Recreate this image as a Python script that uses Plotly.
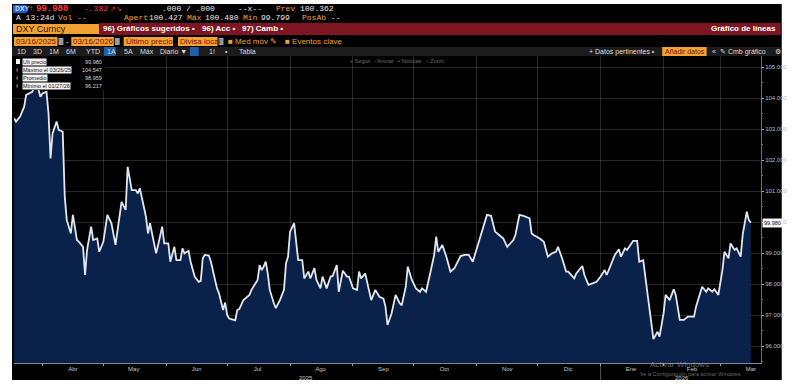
import plotly.graph_objects as go

# ---------------- data ----------------
dates = [
    "2025-03-18", "2025-03-19", "2025-03-21", "2025-03-23", "2025-03-24", "2025-03-27", "2025-03-29", "2025-03-31",
    "2025-04-01", "2025-04-03", "2025-04-04", "2025-04-05", "2025-04-06", "2025-04-08", "2025-04-09", "2025-04-11",
    "2025-04-12", "2025-04-13", "2025-04-15", "2025-04-16", "2025-04-18", "2025-04-19", "2025-04-21", "2025-04-22",
    "2025-04-23", "2025-04-25", "2025-04-26", "2025-04-28", "2025-04-29", "2025-05-01", "2025-05-03", "2025-05-05",
    "2025-05-07", "2025-05-10", "2025-05-12", "2025-05-13", "2025-05-15", "2025-05-17", "2025-05-18", "2025-05-19",
    "2025-05-22", "2025-05-23", "2025-05-24", "2025-05-27", "2025-05-28", "2025-05-30", "2025-05-31", "2025-06-02",
    "2025-06-03", "2025-06-05", "2025-06-06", "2025-06-08", "2025-06-09", "2025-06-10", "2025-06-12", "2025-06-13",
    "2025-06-15", "2025-06-17", "2025-06-18", "2025-06-19", "2025-06-20", "2025-06-22", "2025-06-23", "2025-06-24",
    "2025-06-26", "2025-06-27", "2025-06-28", "2025-06-29", "2025-06-30", "2025-07-01", "2025-07-02", "2025-07-04",
    "2025-07-05", "2025-07-06", "2025-07-07", "2025-07-09", "2025-07-10", "2025-07-12", "2025-07-13", "2025-07-16",
    "2025-07-17", "2025-07-18", "2025-07-19", "2025-07-20", "2025-07-21", "2025-07-22", "2025-07-24", "2025-07-25",
    "2025-07-27", "2025-07-29", "2025-07-30", "2025-07-31", "2025-08-01", "2025-08-03", "2025-08-04", "2025-08-05",
    "2025-08-07", "2025-08-08", "2025-08-10", "2025-08-11", "2025-08-13", "2025-08-14", "2025-08-16", "2025-08-17",
    "2025-08-19", "2025-08-21", "2025-08-22", "2025-08-24", "2025-08-25", "2025-08-27", "2025-08-29", "2025-08-30",
    "2025-09-01", "2025-09-03", "2025-09-04", "2025-09-05", "2025-09-07", "2025-09-09", "2025-09-10", "2025-09-12",
    "2025-09-14", "2025-09-16", "2025-09-17", "2025-09-18", "2025-09-20", "2025-09-22", "2025-09-24", "2025-09-25",
    "2025-09-27", "2025-09-28", "2025-09-30", "2025-10-02", "2025-10-04", "2025-10-05", "2025-10-07", "2025-10-09",
    "2025-10-11", "2025-10-12", "2025-10-13", "2025-10-15", "2025-10-17", "2025-10-19", "2025-10-21", "2025-10-24",
    "2025-10-26", "2025-10-28", "2025-10-30", "2025-11-02", "2025-11-04", "2025-11-06", "2025-11-08", "2025-11-10",
    "2025-11-12", "2025-11-14", "2025-11-16", "2025-11-19", "2025-11-20", "2025-11-22", "2025-11-24", "2025-11-27",
    "2025-11-28", "2025-11-29", "2025-12-02", "2025-12-04", "2025-12-06", "2025-12-08", "2025-12-10", "2025-12-11",
    "2025-12-13", "2025-12-15", "2025-12-16", "2025-12-19", "2025-12-20", "2025-12-23", "2025-12-24", "2025-12-26",
    "2025-12-28", "2025-12-30", "2026-01-01", "2026-01-03", "2026-01-04", "2026-01-06", "2026-01-08", "2026-01-10",
    "2026-01-11", "2026-01-13", "2026-01-14", "2026-01-17", "2026-01-19", "2026-01-20", "2026-01-22", "2026-01-23",
    "2026-01-25", "2026-01-27", "2026-01-29", "2026-01-30", "2026-02-01", "2026-02-02", "2026-02-04", "2026-02-06",
    "2026-02-07", "2026-02-09", "2026-02-11", "2026-02-13", "2026-02-16", "2026-02-17", "2026-02-20", "2026-02-22",
    "2026-02-23", "2026-02-25", "2026-02-26", "2026-02-28", "2026-03-02", "2026-03-03", "2026-03-05", "2026-03-06",
    "2026-03-08", "2026-03-09", "2026-03-11", "2026-03-12", "2026-03-14", "2026-03-15", "2026-03-16",
]
prices = [
    103.35, 103.24, 103.40, 103.72, 104.10, 104.20, 104.55, 104.04,
    104.15, 104.20, 103.50, 102.05, 102.86, 103.24, 102.97, 102.91,
    100.82, 100.06, 99.63, 100.23, 99.42, 99.36, 99.20, 98.29,
    99.10, 99.85, 99.42, 99.47, 99.04, 99.36, 100.23, 99.96,
    99.26, 100.65, 100.39, 101.78, 101.03, 101.03, 100.92, 101.09,
    100.17, 99.63, 99.96, 98.99, 99.26, 99.85, 99.31, 99.31,
    98.72, 99.20, 98.77, 98.77, 99.15, 98.99, 99.07, 98.72,
    98.24, 98.07, 98.10, 98.83, 98.94, 98.92, 98.72, 98.40,
    97.86, 97.70, 97.43, 97.16, 97.40, 97.00, 96.89, 96.84,
    96.83, 97.16, 97.19, 97.48, 97.54, 97.65, 97.81, 98.13,
    98.61, 98.45, 98.56, 98.72, 98.34, 97.81, 97.38, 97.22,
    97.48, 97.81, 98.67, 98.88, 99.69, 99.96, 99.36, 98.77,
    98.77, 98.18, 98.40, 98.18, 98.51, 98.13, 97.86, 98.24,
    97.86, 98.24, 98.26, 98.61, 97.75, 98.43, 98.24, 98.24,
    97.86, 97.81, 98.40, 98.18, 98.34, 97.81, 97.48, 97.81,
    97.59, 97.53, 97.27, 96.68, 97.05, 97.65, 97.38, 97.31,
    97.91, 98.56, 98.13, 97.86, 97.75, 97.86, 97.75, 98.34,
    98.94, 99.53, 99.04, 99.26, 98.88, 98.40, 98.51, 98.90,
    98.94, 98.94, 98.72, 99.36, 99.80, 100.23, 100.20, 99.69,
    99.58, 99.47, 99.20, 99.42, 99.58, 100.23, 100.20, 100.12,
    99.63, 99.58, 99.47, 99.36, 98.88, 98.99, 99.04, 99.20,
    98.83, 98.40, 98.40, 98.18, 98.34, 98.58, 98.29, 97.97,
    98.02, 98.07, 98.24, 98.45, 98.29, 98.61, 98.94, 99.12,
    98.88, 99.15, 99.10, 99.39, 99.39, 98.72, 98.77, 98.24,
    97.21, 96.22, 96.46, 96.30, 97.05, 97.65, 97.48, 97.83,
    97.65, 96.84, 96.84, 96.95, 96.95, 97.27, 97.91, 97.75,
    97.86, 97.75, 97.83, 97.65, 98.45, 99.04, 98.83, 99.31,
    99.10, 99.15, 98.88, 99.60, 100.33, 100.06, 99.98,
]

month_labels = ["Abr", "May", "Jun", "Jul", "Ago", "Sep", "Oct", "Nov", "Dic", "Ene", "Feb", "Mar"]
month_mids = ["2025-04-16", "2025-05-16", "2025-06-16", "2025-07-16", "2025-08-16", "2025-09-16",
              "2025-10-16", "2025-11-16", "2025-12-16", "2026-01-16", "2026-02-15", "2026-03-16"]
year_labels = ["2025", "2026"]
year_positions = ["2025-08-09", "2026-02-10"]

last_price = 99.980
legend_rows = [("Ult precio", "99.980"), ("Máximo el 03/26/25", "104.547"),
               ("Promedio", "98.959"), ("Mínimo el 01/27/26", "96.217")]

# ---------------- layout helpers (pixel -> paper) ----------------
W, H = 800, 384
L, R, T, B = 14, 30, 56, 21
PW, PH = W - L - R, H - T - B


def px(x):
    return (x - L) / PW


def py(y):
    return (H - B - y) / PH


shapes = []
annotations = []

ORANGE = "#f2a233"
WHITE = "#e8e8e8"
RED = "#ff3b3b"
MONO = "Liberation Mono"
SANS = "Liberation Sans"


def rect(x0, y0, x1, y1, color, layer="below"):
    shapes.append(dict(type="rect", xref="paper", yref="paper", x0=px(x0), x1=px(x1),
                       y0=py(y1), y1=py(y0), fillcolor=color, line=dict(width=0), layer=layer))


def text(x, y, s, color=WHITE, size=8, family=SANS, anchor="left", bg=None, bold=False, pad=0):
    if bold:
        s = "<b>" + s + "</b>"
    a = dict(xref="paper", yref="paper", x=px(x), y=py(y), text=s, showarrow=False,
             xanchor=anchor, yanchor="middle", font=dict(color=color, size=size, family=family),
             borderpad=pad)
    if bg:
        a["bgcolor"] = bg
    annotations.append(a)


# frame
rect(12, 4, 791, 380, "#000000")

# row 1
rect(13, 5, 27, 13, "#1d5bd6")
text(14, 9, "DXY", "#ffffff", 8, MONO)
text(28, 9, "↑", "#35c24a", 8, MONO)
text(35, 9, "99.980", RED, 9, MONO, bold=True)
text(84, 9, "-.382", RED, 8, MONO)
text(110, 9, "↗↘", RED, 7, SANS)
text(163, 9, ".000 / .000", WHITE, 8, MONO)
text(240, 9, "--x--", WHITE, 8, MONO)
text(278, 9, "Prev", ORANGE, 8, MONO)
text(302, 9, "100.362", WHITE, 8, MONO)

# row 2
text(15, 18, "A 13:24d", WHITE, 8, MONO)
text(58, 18, "Vol --", ORANGE, 8, MONO)
text(124, 18, "Apert", ORANGE, 8, MONO)
text(150, 18, "100.427", WHITE, 8, MONO)
text(188, 18, "Máx", ORANGE, 8, MONO)
text(206, 18, "100.480", WHITE, 8, MONO)
text(245, 18, "Mín", ORANGE, 8, MONO)
text(263, 18, "99.799", WHITE, 8, MONO)
text(304, 18, "PosAb", ORANGE, 8, MONO)
text(334, 18, "--", WHITE, 8, MONO)

# row 3
rect(100, 23, 790, 35, "#7e1621")
rect(13, 24, 100, 34, ORANGE)
text(15, 29, "DXY Curncy", "#2a1200", 9, SANS)
text(103, 29, "96) Gráficos sugeridos •", "#ffffff", 8, SANS, bold=True)
text(203, 29, "96) Acc •", "#ffffff", 8, SANS, bold=True)
text(244, 29, "97) Camb •", "#ffffff", 8, SANS, bold=True)
text(786, 29, "Gráfico de líneas", "#ffffff", 8, SANS, anchor="right", bold=True)

# row 4
rect(14, 37, 58, 46, ORANGE)
rect(59, 38, 64, 45, "#9a9a9a")
rect(72, 37, 115, 46, ORANGE)
rect(116, 38, 121, 45, "#9a9a9a")
rect(125, 37, 175, 46, ORANGE)
rect(180, 37, 220, 46, ORANGE)
rect(221, 38, 226, 45, "#9a9a9a")
text(15, 41.5, "03/16/2025", "#7a1010", 8, SANS)
text(66, 41.5, "-", WHITE, 8, SANS)
text(73, 41.5, "03/16/2026", "#7a1010", 8, SANS)
text(126, 41.5, "Último precio", "#7a1010", 8, SANS)
text(181, 41.5, "Divisa local", "#7a1010", 8, SANS)
text(230, 41.5, "■ Med móv ✎", ORANGE, 8, SANS)
text(287, 41.5, "■ Eventos clave", ORANGE, 8, SANS)

# row 5
rect(12, 47, 790, 56, "#1c1c1c")
rect(105, 47, 117, 56, "#1f5ea8")
rect(192, 47, 201, 56, "#1f5ea8")
row5 = [(16, "1D"), (32, "3D"), (48, "1M"), (66, "6M"), (86, "YTD"), (107, "1A"), (124, "5A"),
        (141, "Máx"), (161, "Diario ▼"), (210, "1!"), (227, "•"), (241, "Tabla")]
for x, s in row5:
    text(x, 51.5, s, "#dcdcdc", 7, SANS)
rect(670, 47, 715, 56, ORANGE)
text(595, 51.5, "+ Datos pertinentes •", "#dcdcdc", 7, SANS)
text(672, 51.5, "Añadir datos", "#7a1010", 7, SANS)
text(719, 51.5, "«", "#dcdcdc", 7, SANS)
text(727, 51.5, "✎ Cmb gráfico", "#dcdcdc", 7, SANS)
text(783, 51.5, "⚙", "#dcdcdc", 7, SANS)

# chart toolbar
text(402, 60.5, "+ Seguir   ⁄ Anotar   ▪ Noticias   ⌕ Zoom", "#6a6a6a", 5.5, SANS, anchor="center")

# legend box
rect(14, 57, 106, 90, "#000000", layer="above")
rect(16, 59, 20, 64, "#ffffff", layer="above")
ys = [62, 70, 78, 86]
for (lab, val), y in zip(legend_rows, ys):
    text(22, y, lab, "#111111", 5.5, SANS, bg="#f2f2f2", pad=0)
    text(104, y, val, "#d8d8d8", 5.5, SANS, anchor="right")
for y in ys[1:]:
    rect(16.5, y - 1.5, 18, y + 1.5, "#777777", layer="above")

# watermark
text(657, 364.5, "Activar Windows", "rgba(190,190,190,0.55)", 8, SANS)
text(647, 374, "Ve a Configuración para activar Windows.", "rgba(190,190,190,0.55)", 5.5, SANS)

# year labels
for yl, yp in zip(year_labels, year_positions):
    annotations.append(dict(xref="x", yref="paper", x=yp, y=py(377.5), text=yl, showarrow=False,
                            xanchor="center", yanchor="middle",
                            font=dict(color="#c8c8c8", size=6, family=SANS)))
shapes.append(dict(type="line", xref="x", yref="paper", x0="2026-01-01", x1="2026-01-01",
                   y0=py(380), y1=py(366), line=dict(color="#555555", width=1)))

# last price tag
annotations.append(dict(xref="paper", yref="y", x=1.002, y=last_price, text="99.980", showarrow=False,
                        xanchor="left", yanchor="middle", bgcolor="#f4f4f4", borderpad=1,
                        font=dict(color="#111111", size=5.5, family=SANS)))

# ---------------- figure ----------------
fig = go.Figure()
fig.add_trace(go.Scatter(
    x=dates, y=prices, mode="lines", fill="tozeroy",
    fillcolor="#0a2149", line=dict(color="#e2e7ef", width=1.8), hoverinfo="skip",
))

GRID = "rgba(140,140,140,0.28)"
fig.update_layout(
    width=W, height=H,
    margin=dict(l=L, r=R, t=T, b=B, pad=0),
    paper_bgcolor="#ffffff", plot_bgcolor="#000000",
    showlegend=False,
    shapes=shapes, annotations=annotations,
    xaxis=dict(
        type="date", range=["2025-03-18", "2026-03-21"],
        tickmode="array", tickvals=month_mids, ticktext=month_labels,
        ticks="", showgrid=False, zeroline=False,
        tickfont=dict(color="#c8c8c8", size=6, family=SANS),
        showline=True, linecolor="#7d8a9c", linewidth=1,
        layer="above traces",
        minor=dict(tickmode="linear", tick0="2025-04-01", dtick="M1", showgrid=True,
                   gridcolor=GRID, gridwidth=1, ticks="outside", ticklen=2, tickcolor="#9aa4b0"),
    ),
    yaxis=dict(
        side="right", range=[95.452, 105.355],
        tick0=96, dtick=1, tickformat=".3f",
        showgrid=True, gridcolor=GRID, gridwidth=1, zeroline=False,
        ticks="outside", ticklen=2, tickcolor="#b0b0b0",
        tickfont=dict(color="#bfbfbf", size=6, family=SANS),
        showline=True, linecolor="#6c6c6c", linewidth=1,
        layer="above traces",
        minor=dict(dtick=0.5, ticks="outside", ticklen=1, tickcolor="#808080"),
    ),
)

fig.write_html(
    "out.html",
    config={"displayModeBar": False},
    post_script="document.body.style.margin='0px';document.body.style.overflow='hidden';",
)
